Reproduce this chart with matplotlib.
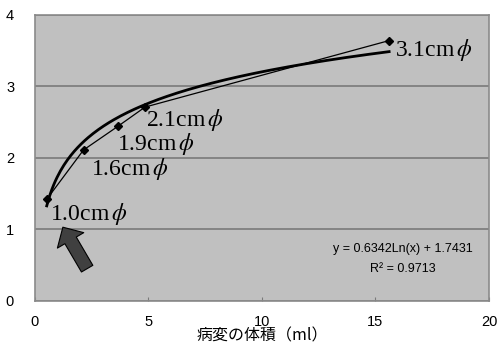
import numpy as np
import matplotlib.pyplot as plt

##---------------- data ----------------
volume_ml = [0.52, 2.14, 3.65, 4.85, 15.6]
y_values = [1.42, 2.11, 2.44, 2.71, 3.64]
point_labels = ["1.0cm", "1.6cm", "1.9cm", "2.1cm", "3.1cm"]
fit_a, fit_b = 0.6342, 1.7431
r2_text = "0.9713"
x_ticks = [0, 5, 10, 15, 20]
y_ticks = [0, 1, 2, 3, 4]
##----------------------------------------------------------

plt.rcParams['font.family'] = ['Liberation Sans', 'Noto Sans CJK JP']
plt.rcParams['mathtext.fontset'] = 'stix'

fig = plt.figure(figsize=(4.99, 3.45), dpi=100)
ax = fig.add_axes([0.070, 0.128, 0.910, 0.829])
ax.set_facecolor('#c0c0c0')

ax.set_xlim(0, 20)
ax.set_ylim(0, 4)
ax.set_xticks(x_ticks)
ax.set_yticks(y_ticks)
ax.yaxis.grid(True, color='#7a7a7a', linewidth=1.2)
ax.set_axisbelow(True)
for s in ax.spines.values():
    s.set_color('#8a8a8a')
    s.set_linewidth(1.2)
ax.tick_params(axis='x', direction='in', length=3, color='#7a7a7a', labelsize=10.5, pad=10)
ax.tick_params(axis='y', length=0, labelsize=10.5, pad=15)

# trend line from the displayed equation
xf = np.linspace(volume_ml[0], volume_ml[-1], 200)
ax.plot(xf, fit_a * np.log(xf) + fit_b, color='black', linewidth=2.0)

# measured points
ax.plot(volume_ml, y_values, color='black', linewidth=0.9, marker='D', markersize=4.5)

# point labels (size in cm, phi = diameter)
lab_off = [(0.14, -0.2), (0.31, -0.26), (-0.05, -0.24), (0.02, -0.18), (0.28, -0.13)]
for xv, yv, t, (dx, dy) in zip(volume_ml, y_values, point_labels, lab_off):
    ax.text(xv + dx, yv + dy, t + r"$\,\phi$", family=['Liberation Serif'],
            fontsize=17, va='center', ha='left')

# arrow pointing to the smallest lesion
ax.annotate('', xy=(1.23, 1.03), xytext=(2.3, 0.45),
            arrowprops=dict(arrowstyle='simple,head_length=1.1,head_width=2.2,tail_width=0.95',
                            mutation_scale=10, shrinkA=0, shrinkB=0,
                            facecolor='#404040', edgecolor='black', lw=0.8))

ax.text(16.2, 0.73, "y = %.4fLn(x) + %.4f" % (fit_a, fit_b), fontsize=9, ha='center', va='center')
ax.text(16.2, 0.45, "R\u00b2 = " + r2_text, fontsize=9, ha='center', va='center')

ax.set_xlabel("病変の体積（ml）", family=['Noto Sans CJK JP'], fontsize=11.5, labelpad=-1)

fig.savefig('out.png', dpi=100)
